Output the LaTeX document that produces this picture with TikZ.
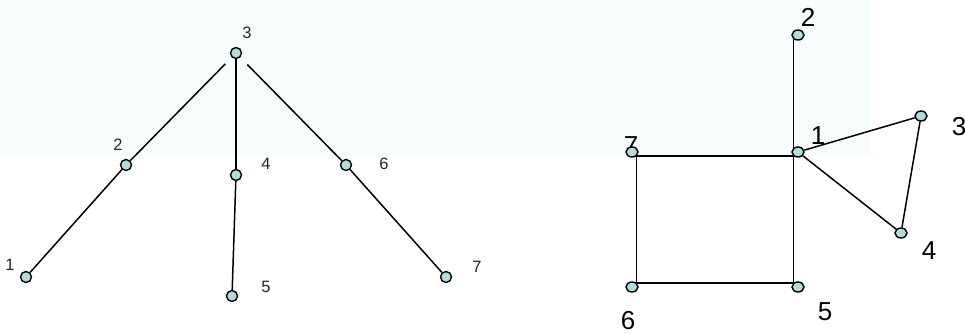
\documentclass[tikz,border=0pt]{standalone}
\usepackage{fontspec}
\setmainfont{Liberation Sans}
\definecolor{bandbg}{RGB}{247,253,253}
\definecolor{nodefill}{RGB}{176,220,220}
\tikzset{
  vl/.style={circle, draw=black, fill=nodefill, line width=1.4pt, minimum size=11pt, inner sep=0pt},
  vr/.style={ellipse, draw=black, fill=nodefill, line width=1.4pt, minimum width=12pt, minimum height=10pt, inner sep=0pt},
  lbl/.style={inner sep=0pt, font=\fontsize{16.5}{16.5}\selectfont, text=black!85},
  rbl/.style={inner sep=0pt, font=\fontsize{26}{26}\selectfont},
  edge/.style={line width=1.5pt, draw=black}
}
\usetikzlibrary{shapes.geometric}
\begin{document}
\begin{tikzpicture}[x=1pt,y=-1pt]
\useasboundingbox (0,0) rectangle (965,334);
\fill[white] (0,0) rectangle (965,334);
\fill[bandbg] (0,0) rectangle (870,156);
% left tree labels
\node[lbl] (tl3) at (247,33) {3};
\node[lbl] (tl2) at (118,145) {2};
\node[lbl] (tl4) at (266,164) {4};
\node[lbl] (tl6) at (384,164) {6};
\node[lbl] (tl1) at (10,265) {1};
\node[lbl] (tl5) at (266,287) {5};
\node[lbl] (tl7) at (477,267) {7};
% left tree nodes
\node[vl] (a3) at (236,53) {};
\node[vl] (a2) at (126,165) {};
\node[vl] (a4) at (236,175) {};
\node[vl] (a6) at (346,165) {};
\node[vl] (a1) at (26,277) {};
\node[vl] (a5) at (232,296) {};
\node[vl] (a7) at (446,277) {};
\draw[edge, shorten <=9pt] (a3) -- (a2);
\draw[edge] (a2) -- (a1);
\draw[edge] (a3) -- (a4);
\draw[edge] (a4) -- (a5);
\draw[edge, shorten <=10pt] (a3) -- (a6);
\draw[edge] (a6) -- (a7);
% right graph labels
\node[rbl] (tr2) at (808,17) {2};
\node[rbl] (tr1) at (818,136) {1};
\node[rbl] (tr3) at (959,127) {3};
\node[rbl] (tr7) at (631,146) {7};
\node[rbl] (tr4) at (929,251) {4};
\node[rbl] (tr5) at (825,312) {5};
\node[rbl] (tr6) at (628,321) {6};
% right graph nodes
\node[vr] (b2) at (798,35) {};
\node[vr] (b1) at (798,152) {};
\node[vr] (b3) at (921,116) {};
\node[vr] (b4) at (901,233) {};
\node[vr] (b5) at (798,287) {};
\node[vr] (b6) at (632,287) {};
\node[vr] (b7) at (632,152) {};
\draw[edge] (b2.south west) -- (b1.north west);
\draw[edge] (b7.south east) -- (b1.south west);
\draw[edge] (b1.south west) -- (b5.north west);
\draw[edge] (b5.north west) -- (b6.north east);
\draw[edge] (b6.north east) -- (b7.south east);
\draw[edge] (b1) -- (b3);
\draw[edge] (b3) -- (b4);
\draw[edge] (b1) -- (b4);
\end{tikzpicture}
\end{document}
